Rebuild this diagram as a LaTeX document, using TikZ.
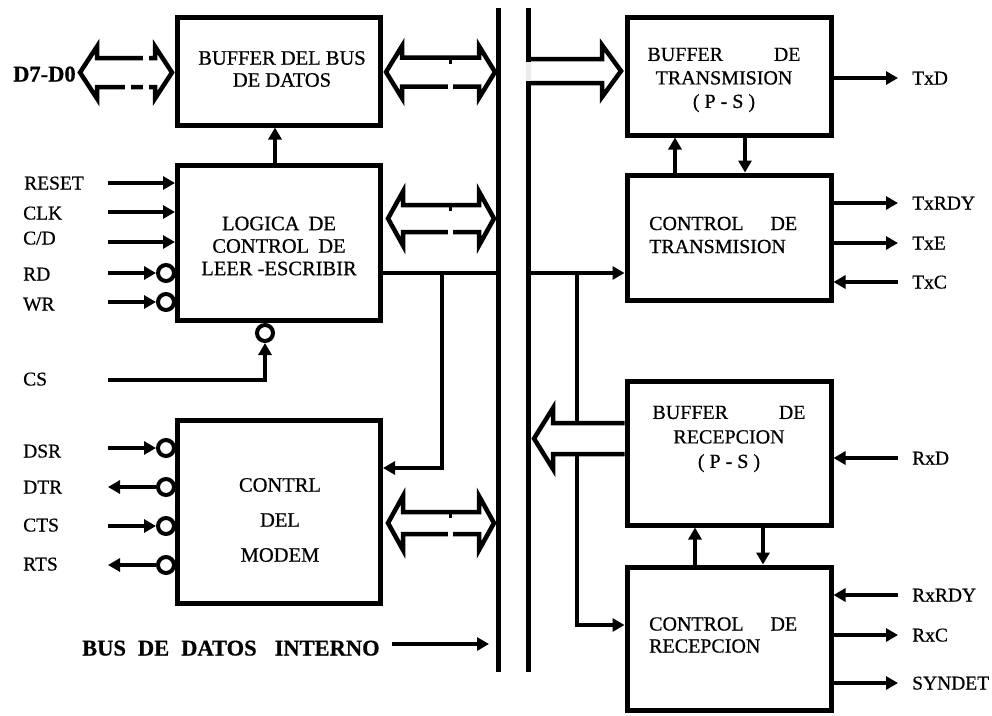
\documentclass[tikz,border=0pt]{standalone}
\usepackage{fontspec}
\setmainfont{Liberation Serif}[FakeBold=0.6]
\usetikzlibrary{arrows.meta}
\newcommand\hdbl[6]{% #1 x1, #2 x2, #3 c, #4 h, #5 H, #6 L
  \draw[hollow] (#1,#3) -- ({#1+#6},{#3-#5}) -- ({#1+#6},{#3-#4}) -- ({#2-#6},{#3-#4}) -- ({#2-#6},{#3-#5}) -- (#2,#3) -- ({#2-#6},{#3+#5}) -- ({#2-#6},{#3+#4}) -- ({#1+#6},{#3+#4}) -- ({#1+#6},{#3+#5}) -- cycle;}
\newcommand\busmark[3]{% x, c, h : tick under upper shaft, gap in lower shaft
  \fill[white] ({#1-2.5},{#2+#3-3}) rectangle ({#1+2.5},{#2+#3+3});
  \fill[black] ({#1-1.5},{#2-#3}) rectangle ({#1+1.5},{#2-#3+6});}
\begin{document}
\begin{tikzpicture}[x=1pt,y=-1pt,
  box/.style={draw, line width=5pt, inner sep=0pt},
  sig/.style={line width=4.5pt, -{Triangle[length=12pt,width=13pt]}},
  wire/.style={line width=4.5pt},
  hollow/.style={draw, line width=4.5pt, fill=white, line join=miter},
  bub/.style={circle, draw, line width=4pt, minimum size=16pt, inner sep=0pt},
  pin/.style={anchor=west, inner sep=0pt, text height=13pt, text depth=0pt, font=\fontsize{19.5}{22}\selectfont},
  bpin/.style={anchor=west, inner sep=0pt, text height=15pt, text depth=0pt, font=\fontsize{22.5}{25}\selectfont\bfseries},
  btxt/.style={inner sep=0pt, align=center},
  busln/.style={line width=5pt},
]
\fill[white] (0,0) rectangle (992,715);
\useasboundingbox (0,0) rectangle (992,715);

% ---------- boxes ----------
\node[box, minimum width=203pt, minimum height=108pt] (bufbus) at (279,71) {};
\node[box, minimum width=203pt, minimum height=155pt] (logic) at (279,242.5) {};
\node[box, minimum width=203pt, minimum height=183pt] (modem) at (279,511.5) {};
\node[box, minimum width=204pt, minimum height=118pt] (buftx) at (729,76) {};
\node[box, minimum width=204pt, minimum height=125pt] (ctrltx) at (729,237.5) {};
\node[box, minimum width=204pt, minimum height=144pt] (bufrx) at (729,453) {};
\node[box, minimum width=204pt, minimum height=143pt] (ctrlrx) at (729,638.5) {};

% ---------- box texts ----------
\node[btxt, font=\fontsize{20.5}{22}\selectfont] (bufbusT) at (282,69) {BUFFER DEL BUS\\DE DATOS};
\node[btxt, font=\fontsize{20.5}{22.5}\selectfont] (logicT) at (279,246) {LOGICA\hspace{4pt} DE\\CONTROL\hspace{4pt} DE\\LEER -ESCRIBIR};
\node[btxt, font=\fontsize{20.5}{35}\selectfont] (modemT) at (280,520) {CONTRL\\DEL\\MODEM};
\node[btxt, font=\fontsize{20}{23.5}\selectfont] (buftxT) at (724,80) {\hbox to 153pt{BUFFER\hfill DE}\\TRANSMISION\\( P - S )};
\node[btxt, align=left, anchor=west, font=\fontsize{20}{23}\selectfont] (ctrltxT) at (649,235) {\hbox to 148pt{CONTROL\hfill DE}\\TRANSMISION};
\node[btxt, font=\fontsize{20}{24.5}\selectfont] (bufrxT) at (729,439) {\hbox to 153pt{BUFFER\hfill DE}\\RECEPCION\\( P - S )};
\node[btxt, align=left, anchor=west, font=\fontsize{20}{22}\selectfont] (ctrlrxT) at (649,635) {\hbox to 148pt{CONTROL\hfill DE}\\RECEPCION};

% ---------- left pins ----------
\node[bpin] (d70) at (13,74) {D7-D0};
\node[pin] (resetL) at (24,183) {RESET};
\node[pin] (clkL) at (23,213) {CLK};
\node[pin] (cdL) at (23,238) {C/D};
\node[pin] (rdL) at (23,274) {RD};
\node[pin] (wrL) at (23,304) {WR};
\node[pin] (csL) at (23,379) {CS};
\node[pin] (dsrL) at (23,451) {DSR};
\node[pin] (dtrL) at (23,487) {DTR};
\node[pin] (ctsL) at (23,525) {CTS};
\node[pin] (rtsL) at (23,564) {RTS};

\coordinate (resetE) at (108,183);
\coordinate (clkE) at (108,212);
\coordinate (cdE) at (108,242);
\coordinate (rdE) at (108,273);
\coordinate (wrE) at (108,302);
\coordinate (csE) at (108,380);
\coordinate (dsrE) at (108,448);
\coordinate (dtrE) at (108,487);
\coordinate (ctsE) at (108,526);
\coordinate (rtsE) at (108,565);

\node[bub] (rdB) at (166,273) {};
\node[bub] (wrB) at (166,302) {};
\node[bub] (csB) at (265,333) {};
\node[bub] (dsrB) at (166,448) {};
\node[bub] (dtrB) at (166,487) {};
\node[bub] (ctsB) at (166,526) {};
\node[bub] (rtsB) at (166,565) {};

\draw[sig] (resetE) -- (resetE -| logic.west);
\draw[sig] (clkE) -- (clkE -| logic.west);
\draw[sig] (cdE) -- (cdE -| logic.west);
\draw[sig] (rdE) -- (rdB.west);
\draw[sig] (wrE) -- (wrB.west);
\draw[sig] (csE) -| (csB.south);
\draw[sig] (dsrE) -- (dsrB.west);
\draw[sig] (dtrB.west) -- (dtrE);
\draw[sig] (ctsE) -- (ctsB.west);
\draw[sig] (rtsB.west) -- (rtsE);

% logic -> buffer del bus
\draw[sig] ([xshift=-4pt]logic.north) -- ([xshift=-4pt]bufbus.south);

% ---------- bus lines ----------
\coordinate (bLt) at (498,8); \coordinate (bLb) at (498,672);
\coordinate (bRt) at (528,8); \coordinate (bRb) at (528,672);

% wires
\coordinate (j1) at (442,273);
\coordinate (m1) at (442,468);
\draw[wire] (j1 -| logic.east) -- (j1 -| bLt);
\draw[sig] (j1) -- (m1) -- (m1 -| modem.east);

\coordinate (j2) at (577,273);
\coordinate (j3) at (577,625);
\draw[sig] (j2 -| bRt) -- (j2 -| ctrltx.west);
\draw[sig] (j2) -- (j3) -- (j3 -| ctrlrx.west);

% between right boxes
\draw[sig] ([xshift=-54pt]ctrltx.north) -- ([xshift=-54pt]buftx.south);
\draw[sig] ([xshift=16pt]buftx.south) -- ([xshift=16pt]ctrltx.north);
\draw[sig] ([xshift=-34pt]ctrlrx.north) -- ([xshift=-34pt]bufrx.south);
\draw[sig] ([xshift=34pt]bufrx.south) -- ([xshift=34pt]ctrlrx.north);

% ---------- hollow bus arrows ----------
\hdbl{80}{172}{72.5}{14.5}{26}{17}
\fill[white] (143,55) rectangle (149,61);
\fill[white] (125,84) rectangle (131,90);
\fill[white] (143,84) rectangle (149,90);
\hdbl{386}{495}{72}{14.5}{26}{16}
\busmark{450}{72}{14.5}
\hdbl{388}{494}{218.5}{13.5}{27}{15}
\busmark{450}{218.5}{13.5}
\hdbl{388}{494}{523}{11}{27}{15}
\busmark{450}{523}{11}

% buffer de transmision input (open at the bus)
\draw[hollow] (528,59) -- (602,59) -- (602,45) -- (621,71) -- (602,97) -- (602,83) -- (528,83);
% buffer de recepcion output
\draw[hollow] (624.5,423) -- (553,423) -- (553,408) -- (534,438.5) -- (553,469) -- (553,454) -- (624.5,454);

\draw[busln] (bLt) -- (bLb);
\draw[busln] (bRt) -- (bRb);
\fill[white!92!black] (525.5,61.5) rectangle (530.5,80.5);

% ---------- right pins ----------
\node[pin] (txdL) at (912,78) {TxD};
\node[pin] (txrdyL) at (912,203) {TxRDY};
\node[pin] (txeL) at (912,243) {TxE};
\node[pin] (txcL) at (912,282) {TxC};
\node[pin] (rxdL) at (912,458) {RxD};
\node[pin] (rxrdyL) at (912,595) {RxRDY};
\node[pin] (rxcL) at (912,635) {RxC};
\node[pin] (syndetL) at (912,683) {SYNDET};

\coordinate (txdE) at (898,78);
\coordinate (txrdyE) at (898,203);
\coordinate (txeE) at (898,243);
\coordinate (txcE) at (898,282);
\coordinate (rxdE) at (898,458);
\coordinate (rxrdyE) at (898,595);
\coordinate (rxcE) at (898,635);
\coordinate (syndetE) at (898,683);

\draw[sig] (txdE -| buftx.east) -- (txdE);
\draw[sig] (txrdyE -| ctrltx.east) -- (txrdyE);
\draw[sig] (txeE -| ctrltx.east) -- (txeE);
\draw[sig] (txcE) -- (txcE -| ctrltx.east);
\draw[sig] (rxdE) -- (rxdE -| bufrx.east);
\draw[sig] (rxrdyE) -- (rxrdyE -| ctrlrx.east);
\draw[sig] (rxcE -| ctrlrx.east) -- (rxcE);
\draw[sig] (syndetE -| ctrlrx.east) -- (syndetE);

% ---------- bus label ----------
\node[bpin] (bdiL) at (82,648) {BUS\hspace{12pt}DE\hspace{12pt}DATOS\hspace{18pt}INTERNO};
\coordinate (bdiS) at (392,644);
\coordinate (bdiE) at (489,644);
\draw[sig] (bdiS) -- (bdiE);
\end{tikzpicture}
\end{document}
